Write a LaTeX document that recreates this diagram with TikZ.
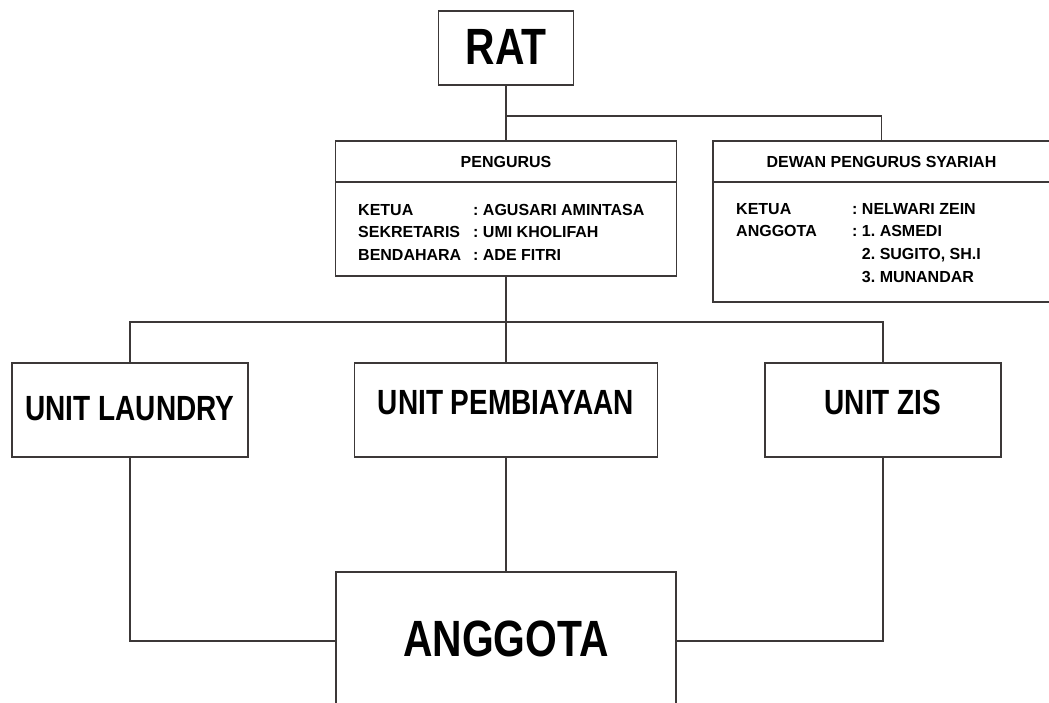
\documentclass[tikz,border=0pt]{standalone}
\usepackage{fontspec}
\setmainfont{Liberation Sans}
\newfontfamily\narrowfont{Liberation Sans}[FakeStretch=0.8]
\usepackage{tikz}
\usetikzlibrary{positioning, calc}
\definecolor{linegray}{RGB}{60,56,56}
\frenchspacing

\begin{document}
\begin{tikzpicture}[
    x=1pt, y=-1pt,
    bigbox/.style={rectangle, draw=linegray, line width=1.4pt, outer sep=0pt, fill=white, font=\narrowfont\bfseries\fontsize{51}{51}\selectfont},
    unitbox/.style={rectangle, draw=linegray, line width=1.4pt, outer sep=0pt, fill=white, minimum height=94pt, text height=25pt, font=\narrowfont\bfseries\fontsize{35}{35}\selectfont},
    headbox/.style={rectangle, draw=linegray, line width=1.4pt, outer sep=0pt, minimum height=41pt, font=\bfseries\fontsize{16}{20}\selectfont},
    bodybox/.style={rectangle, draw=linegray, line width=1.4pt, outer sep=0pt},
    list/.style={anchor=north west, inner sep=0pt, font=\bfseries\fontsize{16}{22.8}\selectfont},
    line/.style={draw=linegray, line width=1.4pt}
]
\useasboundingbox (0,0) rectangle (1049,702);

% RAT
\node[bigbox, minimum width=135pt, minimum height=74pt, text height=36.5pt, text depth=4pt] (rat) at (506,48) {RAT};

% Pengurus
\node[headbox, minimum width=341pt] (pengurusHead) at (506,161.5) {PENGURUS};
\node[bodybox, minimum width=341pt, minimum height=94pt, below=0pt of pengurusHead] (pengurusBody) {};
\node[list] (pengurusList) at (358,199) {\begin{tabular}{@{}p{115pt}@{}l@{}}
KETUA & : AGUSARI AMINTASA\\
SEKRETARIS & : UMI KHOLIFAH\\
BENDAHARA & : ADE FITRI
\end{tabular}};

% Dewan Pengurus Syariah
\node[headbox, minimum width=337pt] (dpsHead) at (881.5,161.5) {DEWAN PENGURUS SYARIAH};
\node[bodybox, minimum width=337pt, minimum height=120pt, below=0pt of dpsHead] (dpsBody) {};
\node[list] (dpsList) at (736,198) {\begin{tabular}{@{}p{116pt}@{}l@{}}
KETUA & : NELWARI ZEIN\\
ANGGOTA & : 1. ASMEDI\\
 & \phantom{: }2. SUGITO, SH.I\\
 & \phantom{: }3. MUNANDAR
\end{tabular}};

% Units
\node[unitbox, minimum width=236pt, text depth=4pt] (laundry) at (130,410) {UNIT LAUNDRY};
\node[unitbox, minimum width=303pt, text depth=16pt] (pembiayaan) at (506,410) {UNIT PEMBIAYAAN};
\node[unitbox, minimum width=236pt, text depth=16pt] (zis) at (883,410) {UNIT ZIS};

% Anggota
\node[bigbox, minimum width=340pt, minimum height=138pt, text height=37pt, text depth=6pt] (anggota) at (506,641) {ANGGOTA};

% Lines
\coordinate (ratSplit) at (506,116);
\coordinate (unitSplit) at (506,322);
\draw[line] (rat.south) -- (pengurusHead.north);
\draw[line] (ratSplit) -| (dpsHead.north);
\draw[line] (pengurusBody.south) -- (pembiayaan.north);
\draw[line] (laundry.north) |- (unitSplit) -| (zis.north);
\draw[line] (pembiayaan.south) -- (anggota.north);
\draw[line] (laundry.south) |- (anggota.west);
\draw[line] (zis.south) |- (anggota.east);

\end{tikzpicture}
\end{document}
